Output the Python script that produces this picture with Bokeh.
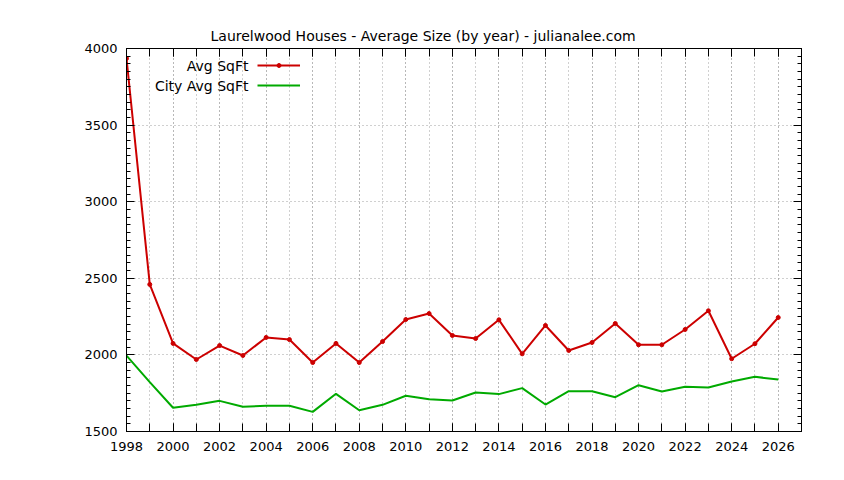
from bokeh.plotting import figure
from bokeh.models import (LinearAxis, FixedTicker, CustomJSTickFormatter, Legend,
                          LegendItem, Label, Range1d, Grid)
from bokeh.embed import file_html
from bokeh.resources import INLINE

# ---- data ----
years = list(range(1998, 2027))
avg_sqft = [3935, 2460, 2075, 1970, 2061, 1996, 2114, 2100, 1950, 2075,
            1950, 2087, 2231, 2270, 2127, 2107, 2229, 2007, 2192, 2029,
            2081, 2205, 2066, 2066, 2166, 2288, 1975, 2073, 2244]
city_avg = [1995, 1822, 1655, 1674, 1700, 1661, 1668, 1668, 1628, 1746,
            1639, 1674, 1733, 1711, 1702, 1755, 1744, 1783, 1676, 1763,
            1763, 1724, 1802, 1761, 1792, 1787, 1826, 1857, 1839]
series_names = ["Avg SqFt", "City Avg SqFt"]
title_text = "Laurelwood Houses - Average Size (by year) - julianalee.com"
x_major = list(range(1998, 2027, 2))
x_minor = list(range(1998, 2027, 1))
y_major = list(range(1500, 4001, 500))
y_minor = list(range(1500, 4001, 50))

RED = "#cc0000"
GREEN = "#00aa00"
FONT = "DejaVu Sans"

p = figure(width=828, height=464, output_backend="svg", toolbar_location=None,
           x_range=Range1d(1998, 2027), y_range=Range1d(1500, 4000),
           min_border_left=126, min_border_right=27, min_border_top=48,
           min_border_bottom=33, x_axis_type=None, y_axis_type=None)
p.background_fill_color = "white"
p.border_fill_color = "white"
p.outline_line_color = "black"
p.outline_line_width = 1

p.title.text = title_text
p.title.text_font = FONT
p.title.text_font_size = "14px"
p.title.text_font_style = "normal"
p.title.align = "left"
p.title.offset = 84
p.title.vertical_align = "bottom"
p.title.standoff = 10
p.title.text_color = "black"

blank = CustomJSTickFormatter(code="return ''")

def make_axis(ticker, labels=True, minor_in=4):
    ax = LinearAxis(ticker=ticker)
    ax.axis_line_color = "black"
    ax.major_tick_in = 8
    ax.major_tick_out = 0
    ax.minor_tick_in = minor_in
    ax.minor_tick_out = 0
    ax.major_tick_line_color = "black"
    ax.minor_tick_line_color = "black"
    ax.major_label_text_font = FONT
    ax.major_label_text_font_size = "13px"
    ax.major_label_text_color = "black"
    if not labels:
        ax.formatter = blank
        ax.major_label_standoff = 0
    return ax

xt = FixedTicker(ticks=x_major, minor_ticks=x_minor)
yt = FixedTicker(ticks=y_major, minor_ticks=y_minor)

xb = make_axis(xt, True, 8)
xb.major_label_standoff = 10
yl = make_axis(yt, True, 4)
yl.major_label_standoff = 9
xa = make_axis(xt, False, 8)
xa.major_label_text_font_size = "6px"
yr = make_axis(yt, False, 4)
p.add_layout(xb, "below")
p.add_layout(yl, "left")
p.add_layout(xa, "above")
p.add_layout(yr, "right")

xg = Grid(dimension=0, ticker=xt, grid_line_color="#a0a0a0", grid_line_dash="1 3",
          grid_line_width=1, minor_grid_line_color="#a0a0a0", minor_grid_line_dash="1 3",
          minor_grid_line_width=1)
yg = Grid(dimension=1, ticker=yt, grid_line_color="#a0a0a0", grid_line_dash="1 3",
          grid_line_width=1)
p.add_layout(xg)
p.add_layout(yg)

r_line = p.line(years, avg_sqft, line_color=RED, line_width=2)
r_pts = p.scatter(years, avg_sqft, size=4, marker="circle", fill_color=RED, line_color=RED)
g_line = p.line(years, city_avg, line_color=GREEN, line_width=2)

legend = Legend(items=[LegendItem(label=" ", renderers=[r_line, r_pts]),
                       LegendItem(label=" ", renderers=[g_line])],
                location=(131, 336), orientation="vertical",
                glyph_width=43, glyph_height=10, label_height=20,
                label_width=1, label_standoff=0, spacing=0, padding=0, margin=0,
                border_line_color=None, background_fill_alpha=0,
                label_text_font_size="1px")
p.add_layout(legend, "center")

for i, name in enumerate(series_names):
    p.add_layout(Label(x=122, y=366 - 20 * i, x_units="screen", y_units="screen",
                       text=name, text_align="right", text_baseline="middle",
                       text_font=FONT, text_font_size="14px", text_color="black"))

open("out.html", "w").write(file_html(p, INLINE))
